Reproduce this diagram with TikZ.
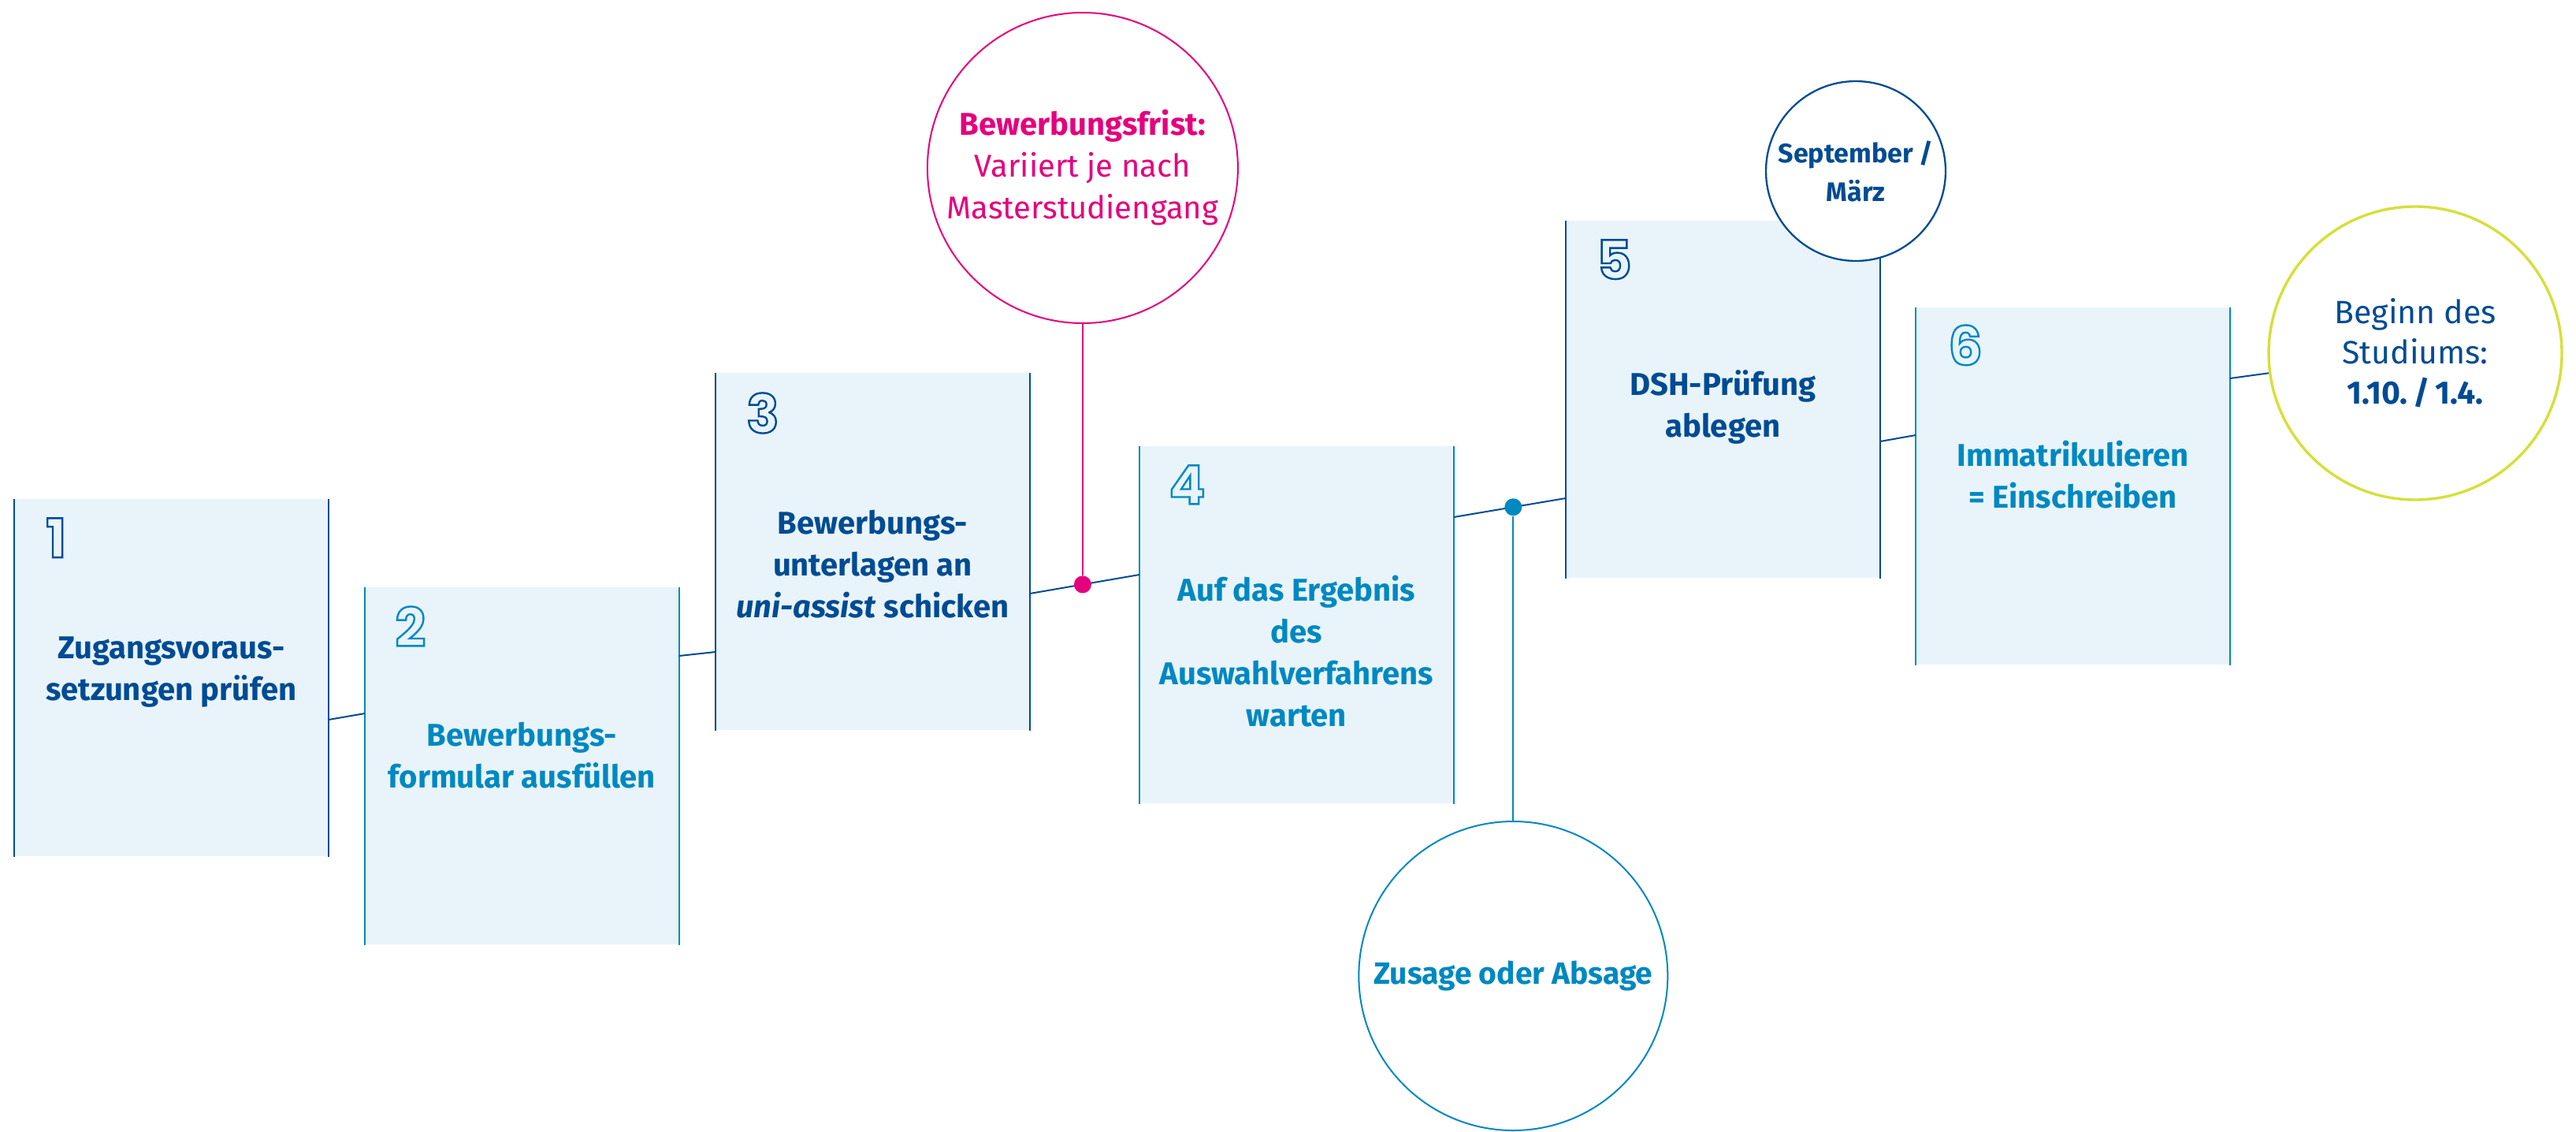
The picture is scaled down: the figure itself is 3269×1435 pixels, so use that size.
\documentclass[tikz,border=0pt]{standalone}
\usepackage{fontspec}
\setmainfont{Fira Sans}
\newfontfamily\digitfont{Poppins}
\usetikzlibrary{calc}
\definecolor{dkblue}{HTML}{004B93}
\definecolor{cyblue}{HTML}{0088C1}
\definecolor{pinkc}{HTML}{E5007D}
\definecolor{limec}{HTML}{D7DF3A}
\definecolor{boxfill}{HTML}{E8F4FA}
\newcommand{\outlinedigit}[1]{\special{pdf:literal direct 1 Tr 1.2 w}#1\special{pdf:literal direct 0 Tr}}
\tikzset{
  stepbox/.style={rectangle, fill=boxfill, draw=none, inner sep=0pt,
    minimum width=199pt, minimum height=226.5pt, anchor=north west},
  boxtext/.style={font=\bfseries\fontsize{20}{26.5}\selectfont, align=center, anchor=base, inner sep=0pt},
  numtext/.style={font=\digitfont\bfseries\fontsize{34}{34}\selectfont, anchor=north west, inner sep=0pt},
  edgedark/.style={draw=dkblue, line width=1.1pt},
  edgecyan/.style={draw=cyblue, line width=1.1pt},
  link/.style={draw=dkblue, line width=1pt},
  dotnode/.style={circle, inner sep=0pt, minimum size=11pt},
  bubble/.style={circle, fill=white, inner sep=0pt, align=center},
}
\begin{document}
\begin{tikzpicture}[x=0.5pt,y=-0.5pt]
\useasboundingbox (0,0) rectangle (3269,1435);
% boxes
\node[stepbox] (b1) at (18,633) {};
\node[stepbox] (b2) at (463,745) {};
\node[stepbox] (b3) at (908,473) {};
\node[stepbox] (b4) at (1446,566) {};
\node[stepbox] (b5) at (1987,280) {};
\node[stepbox] (b6) at (2431,390) {};
\draw[edgedark] (b1.north west) -- (b1.south west) (b1.north east) -- (b1.south east);
\draw[edgecyan] (b2.north west) -- (b2.south west) (b2.north east) -- (b2.south east);
\draw[edgedark] (b3.north west) -- (b3.south west) (b3.north east) -- (b3.south east);
\draw[edgecyan] (b4.north west) -- (b4.south west) (b4.north east) -- (b4.south east);
\draw[edgedark] (b5.north west) -- (b5.south west) (b5.north east) -- (b5.south east);
\draw[edgecyan] (b6.north west) -- (b6.south west) (b6.north east) -- (b6.south east);
% connector end points
\coordinate (r1) at ($(b1.north east)+(0,280)$);
\coordinate (l2) at ($(b2.north west)+(0,160)$);
\coordinate (r2) at ($(b2.north east)+(0,87)$);
\coordinate (l3) at ($(b3.north west)+(0,354)$);
\coordinate (r3) at ($(b3.north east)+(0,280)$);
\coordinate (l4) at ($(b4.north west)+(0,163)$);
\coordinate (r4) at ($(b4.north east)+(0,90)$);
\coordinate (l5) at ($(b5.north west)+(0,352)$);
\coordinate (r5) at ($(b5.north east)+(0,280)$);
\coordinate (l6) at ($(b6.north west)+(0,162)$);
\coordinate (r6) at ($(b6.north east)+(0,90)$);
\path (r3) -- (l4) coordinate[pos=0.482] (pd);
\path (r4) -- (l5) coordinate[pos=0.531] (cd);
\coordinate (fy) at (0,213);
\coordinate (zy) at (0,1238);
% circles
\node[bubble, draw=pinkc, line width=1pt, minimum size=197pt, text=pinkc,
  font=\fontsize{20}{26.5}\selectfont] (frist) at (pd |- fy)
  {\textbf{Bewerbungsfrist:}\\Variiert je nach\\Masterstudiengang};
\node[bubble, draw=cyblue, line width=1pt, minimum size=196pt, text=cyblue,
  font=\bfseries\fontsize{19.5}{24}\selectfont] (zusage) at (cd |- zy)
  {Zusage oder Absage};
\node[bubble, draw=dkblue, line width=1.15pt, minimum size=114pt, text=dkblue,
  font=\bfseries\fontsize{17}{24.5}\selectfont] (sept) at (2355,217)
  {September /\\März};
\node[bubble, draw=limec, line width=1.7pt, minimum size=186pt, text=dkblue,
  font=\fontsize{20.5}{25.5}\selectfont] (beginn) at (3065,448)
  {Beginn des\\Studiums:\\\textbf{1.10.\,/\,1.4.}};
% connectors
\draw[link] (r1) -- (l2);
\draw[link] (r2) -- (l3);
\draw[link] (r3) -- (l4);
\draw[link] (r4) -- (l5);
\draw[link] (r5) -- (l6);
\draw[link] (r6) -- (beginn);
\node[dotnode, fill=pinkc] (pdot) at (pd) {};
\node[dotnode, fill=cyblue] (cdot) at (cd) {};
\draw[pinkc, line width=1pt] (pdot) -- (frist);
\draw[cyblue, line width=1pt] (cdot) -- (zusage);
% numbers
\node[numtext, text=dkblue] (n1) at ($(b1.north west)+(40,24)$) {\outlinedigit{1}};
\node[numtext, text=cyblue] (n2) at ($(b2.north west)+(38,24)$) {\outlinedigit{2}};
\node[numtext, text=dkblue] (n3) at ($(b3.north west)+(39,25)$) {\outlinedigit{3}};
\node[numtext, text=cyblue] (n4) at ($(b4.north west)+(37,24)$) {\outlinedigit{4}};
\node[numtext, text=dkblue] (n5) at ($(b5.north west)+(39,24)$) {\outlinedigit{5}};
\node[numtext, text=cyblue] (n6) at ($(b6.north west)+(41,22)$) {\outlinedigit{6}};
% box texts (anchor = baseline of last line)
\node[boxtext, text=dkblue] (t1) at ($(b1.north)+(0,255)$) {Zugangsvoraus-\\setzungen prüfen};
\node[boxtext, text=cyblue] (t2) at ($(b2.north)+(0,254)$) {Bewerbungs-\\formular ausfüllen};
\node[boxtext, text=dkblue] (t3) at ($(b3.north)+(0,310)$) {Bewerbungs-\\unterlagen an\\\textit{uni-assist} schicken};
\node[boxtext, text=cyblue] (t4) at ($(b4.north)+(0,355)$) {Auf das Ergebnis\\des\\Auswahlverfahrens\\warten};
\node[boxtext, text=dkblue] (t5) at ($(b5.north)+(0,274)$) {DSH-Prüfung\\ablegen};
\node[boxtext, text=cyblue] (t6) at ($(b6.north)+(0,254)$) {Immatrikulieren\\= Einschreiben};
\end{tikzpicture}
\end{document}
